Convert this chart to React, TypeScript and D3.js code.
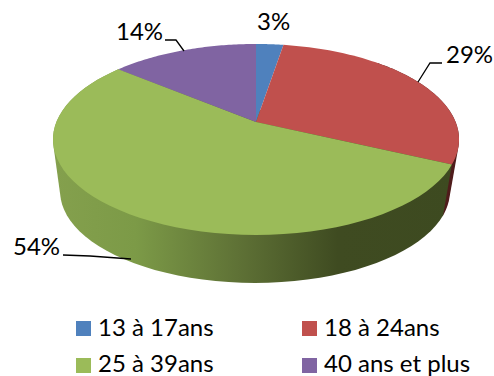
import React from "react";
import * as d3 from "d3";

const categories = ["13 à 17ans", "18 à 24ans", "25 à 39ans", "40 ans et plus"];
const shares = [2.6, 29.4, 54, 14];
const labels = ["3%", "29%", "54%", "14%"];
const colors = ["#4f81bd", "#c0504d", "#9bbb59", "#8064a2"];

const W = 494, H = 376;
const cx = 256, cy = 122, A = 199.6, B = 92.3, k = 0.183;
const project = (t: number, s = 1, dx = 0, dy = 0): [number, number] => {
  const u = Math.sin(t), v = -Math.cos(t), w = 1 - k * v;
  return [cx + dx + (s * A * u) / w, cy + dy + (s * B * v) / w];
};
const samples = (a: number, b: number, s = 1, dx = 0, dy = 0) =>
  d3.range(0, 61).map((i) => project(a + ((b - a) * i) / 60, s, dx, dy));
const line = d3.line();
const Bs = 0.96, Bx = -1, By = 52.5;

const leaders = [
  { i: 1, pts: [[418, 82], [430, 63], [442, 63]], x: 446, y: 63 },
  { i: 2, pts: [[131, 259], [90, 256], [63, 255]], x: 13, y: 255 },
  { i: 3, pts: [[184, 51], [176, 40], [165, 40]], x: 116, y: 40 },
];

export default function App() {
  const arcs = d3.pie<number>().sort(null)(shares);
  const red = arcs[1], green = arcs[2];
  const sidePath = (a: number, b: number) =>
    line(d3.polygonHull([...samples(a, b), ...samples(a, b, Bs, Bx, By)])!)! + "Z";
  return (
    <svg width={W} height={H} style={{ position: "absolute", left: 0, top: 0 }}>
      <defs>
        <linearGradient id="side" gradientUnits="userSpaceOnUse" x1={55} x2={459} y1={0} y2={0}>
          <stop offset="0" stopColor="#84a04d" />
          <stop offset="0.2" stopColor="#7c9a47" />
          <stop offset="0.45" stopColor="#5f7236" />
          <stop offset="0.7" stopColor="#3f4b21" />
          <stop offset="1" stopColor="#3d4a20" />
        </linearGradient>
      </defs>
      <path d={sidePath(red.startAngle + 0.6, red.endAngle)} fill="#4f1c1b" />
      <path d={sidePath(green.startAngle, green.endAngle)} fill="url(#side)" />
      {arcs.map((d, i) => (
        <path
          key={categories[i]}
          d={line([[cx, cy], ...samples(d.startAngle, d.endAngle)])! + "Z"}
          fill={colors[i]}
        />
      ))}
      {leaders.map((l) => (
        <path
          key={l.i}
          d={line(l.pts as [number, number][])!}
          fill="none"
          stroke="#000"
          strokeWidth={1.3}
        />
      ))}
      <g fontFamily="Lato, sans-serif" fontSize={24} fill="#000">
        <text x={257} y={30}>{labels[0]}</text>
        {leaders.map((l) => (
          <text key={l.i} x={l.x} y={l.y}>{labels[l.i]}</text>
        ))}
        {categories.map((c, i) => {
          const x = i % 2 ? 302 : 76, y = i < 2 ? 321 : 358;
          return (
            <g key={c}>
              <rect x={x} y={y} width={15} height={15} fill={colors[i]} />
              <text x={x + 22} y={i < 2 ? y + 15 : y + 14}>{c}</text>
            </g>
          );
        })}
      </g>
    </svg>
  );
}
